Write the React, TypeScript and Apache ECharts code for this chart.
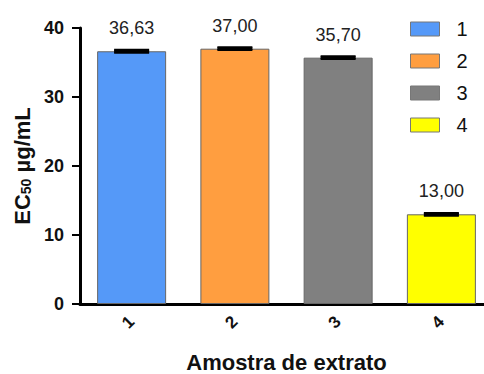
import React, { useEffect, useRef } from "react";
import * as echarts from "echarts";

const categories = ["1", "2", "3", "4"];
const values = [36.63, 37.0, 35.7, 13.0];
const errors = [0.2, 0.2, 0.2, 0.2];
const valueLabels = ["36,63", "37,00", "35,70", "13,00"];
const colors = ["#5599f8", "#ff9e40", "#808080", "#ffff00"];
const yTicks = [0, 10, 20, 30, 40];

const FONT = "'Liberation Sans', Arial, Helvetica, sans-serif";

export default function App() {
  const ref = useRef<HTMLDivElement>(null);
  useEffect(() => {
    if (!ref.current) return;
    const chart = echarts.init(ref.current, null, { renderer: "svg" });
    const barSeries = categories.map((name, i) => ({
      name,
      type: "bar",
      barWidth: 69,
      barGap: "-100%",
      data: categories.map((_, j) => (j === i ? values[i] : null)),
      itemStyle: { color: colors[i], borderColor: "#666", borderWidth: 1 },
      label: {
        show: true,
        position: "top",
        distance: 14,
        formatter: () => valueLabels[i],
        fontFamily: FONT,
        fontSize: 18,
        color: "#222",
      },
      z: 2,
    }));
    chart.setOption({
      animation: false,
      grid: { left: 80, top: 28, width: 413, height: 276, outerBoundsMode: "none", containLabel: false },
      legend: {
        orient: "vertical",
        left: 410,
        top: 19,
        padding: 0,
        itemWidth: 29,
        itemHeight: 14,
        itemGap: 12,
        icon: "rect",
        data: categories,
        textStyle: {
          fontFamily: FONT,
          fontSize: 20,
          color: "#111",
          padding: [0, 0, 0, 12],
        },
        itemStyle: { borderColor: "#777", borderWidth: 1 },
      },
      xAxis: {
        type: "category",
        data: categories,
        name: "Amostra de extrato",
        nameLocation: "middle",
        nameGap: 47,
        nameTextStyle: {
          fontFamily: FONT,
          fontSize: 22,
          lineHeight: 22,
          fontWeight: "bold",
          color: "#111",
        },
        axisLine: { lineStyle: { color: "#000", width: 3 } },
        axisTick: {
          alignWithLabel: true,
          length: 6,
          lineStyle: { color: "#000", width: 2 },
        },
        axisLabel: {
          rotate: 45,
          margin: 15,
          fontFamily: FONT,
          fontSize: 17,
          fontWeight: "bold",
          color: "#111",
        },
      },
      yAxis: {
        type: "value",
        min: yTicks[0],
        max: yTicks[yTicks.length - 1],
        interval: 10,
        name: "{a|EC}{b|50}{a| µg/mL}",
        nameLocation: "middle",
        nameRotate: 90,
        nameGap: 46,
        nameTextStyle: {
          rich: {
            a: {
              fontFamily: FONT,
              fontSize: 22,
              fontWeight: "bold",
              color: "#111",
              verticalAlign: "bottom",
              lineHeight: 26,
            },
            b: {
              fontFamily: FONT,
              fontSize: 14,
              fontWeight: "bold",
              color: "#111",
              verticalAlign: "bottom",
              lineHeight: 18,
            },
          },
        },
        splitLine: { show: false },
        axisLine: { show: true, lineStyle: { color: "#000", width: 3 } },
        axisTick: { show: true, length: 8, lineStyle: { color: "#000", width: 2 } },
        axisLabel: {
          margin: 16,
          fontFamily: FONT,
          fontSize: 18,
          fontWeight: "bold",
          color: "#111",
        },
      },
      series: [
        ...barSeries,
        {
          type: "custom",
          name: "err",
          z: 5,
          data: values.map((v, i) => [i, v, errors[i]]),
          renderItem: (params: any, api: any) => {
            const i = api.value(0);
            const v = api.value(1);
            const e = api.value(2);
            const top = api.coord([i, v + e]);
            const bot = api.coord([i, v - e]);
            const hw = 17.5;
            const st = { stroke: "#000", lineWidth: 2 };
            return {
              type: "group",
              children: [
                { type: "line", shape: { x1: top[0] - hw, y1: top[1], x2: top[0] + hw, y2: top[1] }, style: st },
                { type: "line", shape: { x1: bot[0] - hw, y1: bot[1], x2: bot[0] + hw, y2: bot[1] }, style: st },
                { type: "rect", shape: { x: top[0] - hw, y: top[1], width: hw * 2, height: bot[1] - top[1] }, style: { fill: "#000" } },
              ],
            };
          },
        },
      ],
    });
    return () => chart.dispose();
  }, []);
  return (
    <div
      ref={ref}
      style={{ position: "absolute", left: 0, top: 0, width: 484, height: 374 }}
    />
  );
}
